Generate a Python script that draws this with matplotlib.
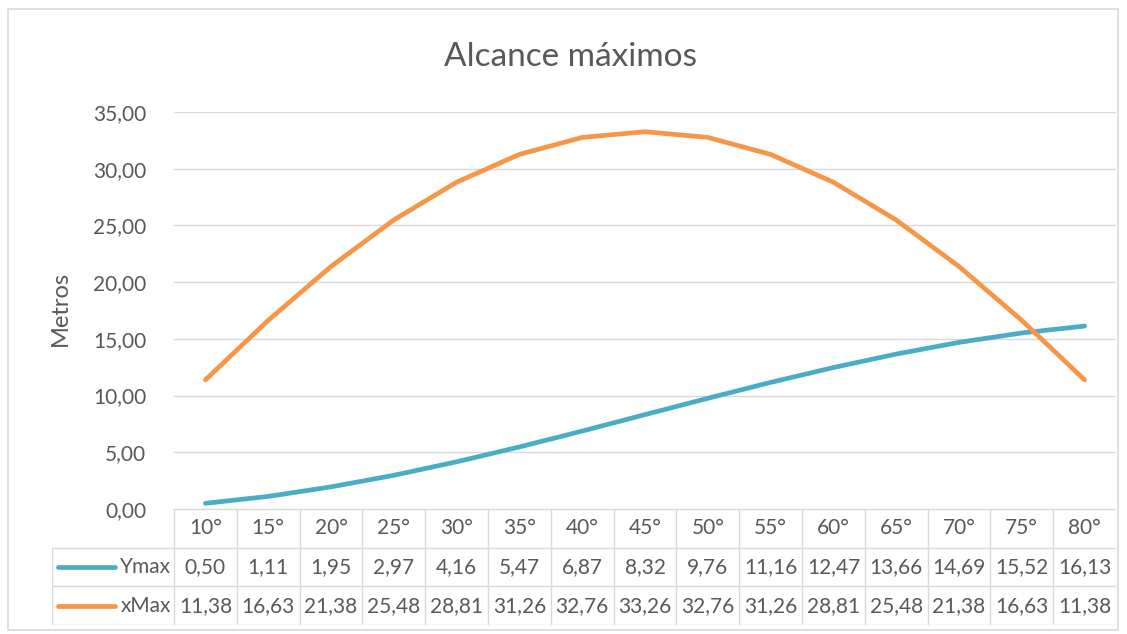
import matplotlib.pyplot as plt
from matplotlib.patches import Rectangle

plt.rcParams['font.family'] = ['Lato', 'DejaVu Sans']

# Data
angles = ['10°', '15°', '20°', '25°', '30°', '35°', '40°', '45°',
          '50°', '55°', '60°', '65°', '70°', '75°', '80°']
ymax = [0.50, 1.11, 1.95, 2.97, 4.16, 5.47, 6.87, 8.32,
        9.76, 11.16, 12.47, 13.66, 14.69, 15.52, 16.13]
xmax = [11.38, 16.63, 21.38, 25.48, 28.81, 31.26, 32.76, 33.26,
        32.76, 31.26, 28.81, 25.48, 21.38, 16.63, 11.38]
series = [('Ymax', ymax, '#4BACC6'), ('xMax', xmax, '#F79646')]

W, H = 1127, 634
TXT = '#595959'
GRID = '#D9D9D9'
FS = 15

fig = plt.figure(figsize=(W / 100, H / 100), dpi=100)

def px(l, t, r, b):
    return [l / W, 1 - b / H, (r - l) / W, (b - t) / H]

# outer chart border
fig.add_artist(Rectangle((8 / W, 1 - 630 / H), 1110 / W, 621 / H,
                         transform=fig.transFigure, fill=False,
                         edgecolor=GRID, lw=1.2))

left, right, top, bottom = 174, 1116, 112, 509
ax = fig.add_axes(px(left, top, right, bottom))
n = len(angles)
x = list(range(n))
for name, vals, col in series:
    ax.plot(x, vals, color=col, lw=3.4, solid_capstyle='round')
ax.set_xlim(-0.5, n - 0.5)
ax.set_ylim(0, 35)
ax.set_yticks(range(0, 36, 5))
ax.set_yticklabels([f'{v},00' for v in range(0, 36, 5)])
ax.tick_params(axis='y', length=0, pad=20, labelsize=FS, labelcolor=TXT)
ax.set_xticks([])
ax.grid(axis='y', color=GRID, lw=1)
ax.set_axisbelow(True)
for s in ax.spines.values():
    s.set_visible(False)
fig.text(60 / W, 1 - 308 / H, 'Metros', fontsize=17, color=TXT,
         rotation=90, ha='center', va='center')
fig.text(570 / W, 1 - 57 / H, 'Alcance máximos', fontsize=24,
         color=TXT, ha='center', va='center')

# data table
tl = 52
colw = (right - left) / n
kcols = (left - tl) / colw
tax = fig.add_axes(px(tl, bottom, right, 625))
tax.set_xlim(-0.5 - kcols, n - 0.5)
tax.set_ylim(3, 0)
tax.axis('off')
lk = dict(color=GRID, lw=1)
# horizontal lines
tax.plot([-0.5, n - 0.5], [0, 0], **lk)
for r in (1, 2, 3):
    tax.plot([-0.5 - kcols, n - 0.5], [r, r], **lk)
# vertical lines
tax.plot([-0.5 - kcols, -0.5 - kcols], [1, 3], **lk)
for i in range(n + 1):
    tax.plot([i - 0.5, i - 0.5], [0, 3], **lk)
for i, a in enumerate(angles):
    tax.text(i, 0.5, a, ha='center', va='center', fontsize=FS, color=TXT)
for r, (name, vals, col) in enumerate(series, start=1):
    tax.plot([-0.5 - kcols + 0.1, -0.5 - kcols + 1.0], [r + 0.5, r + 0.5],
             color=col, lw=3.4, solid_capstyle='round')
    tax.text(-0.55, r + 0.5, name, ha='right', va='center', fontsize=FS, color=TXT)
    for i, v in enumerate(vals):
        tax.text(i, r + 0.5, f'{v:.2f}'.replace('.', ','), ha='center',
                 va='center', fontsize=FS, color=TXT)

fig.savefig('out.png', dpi=100)
